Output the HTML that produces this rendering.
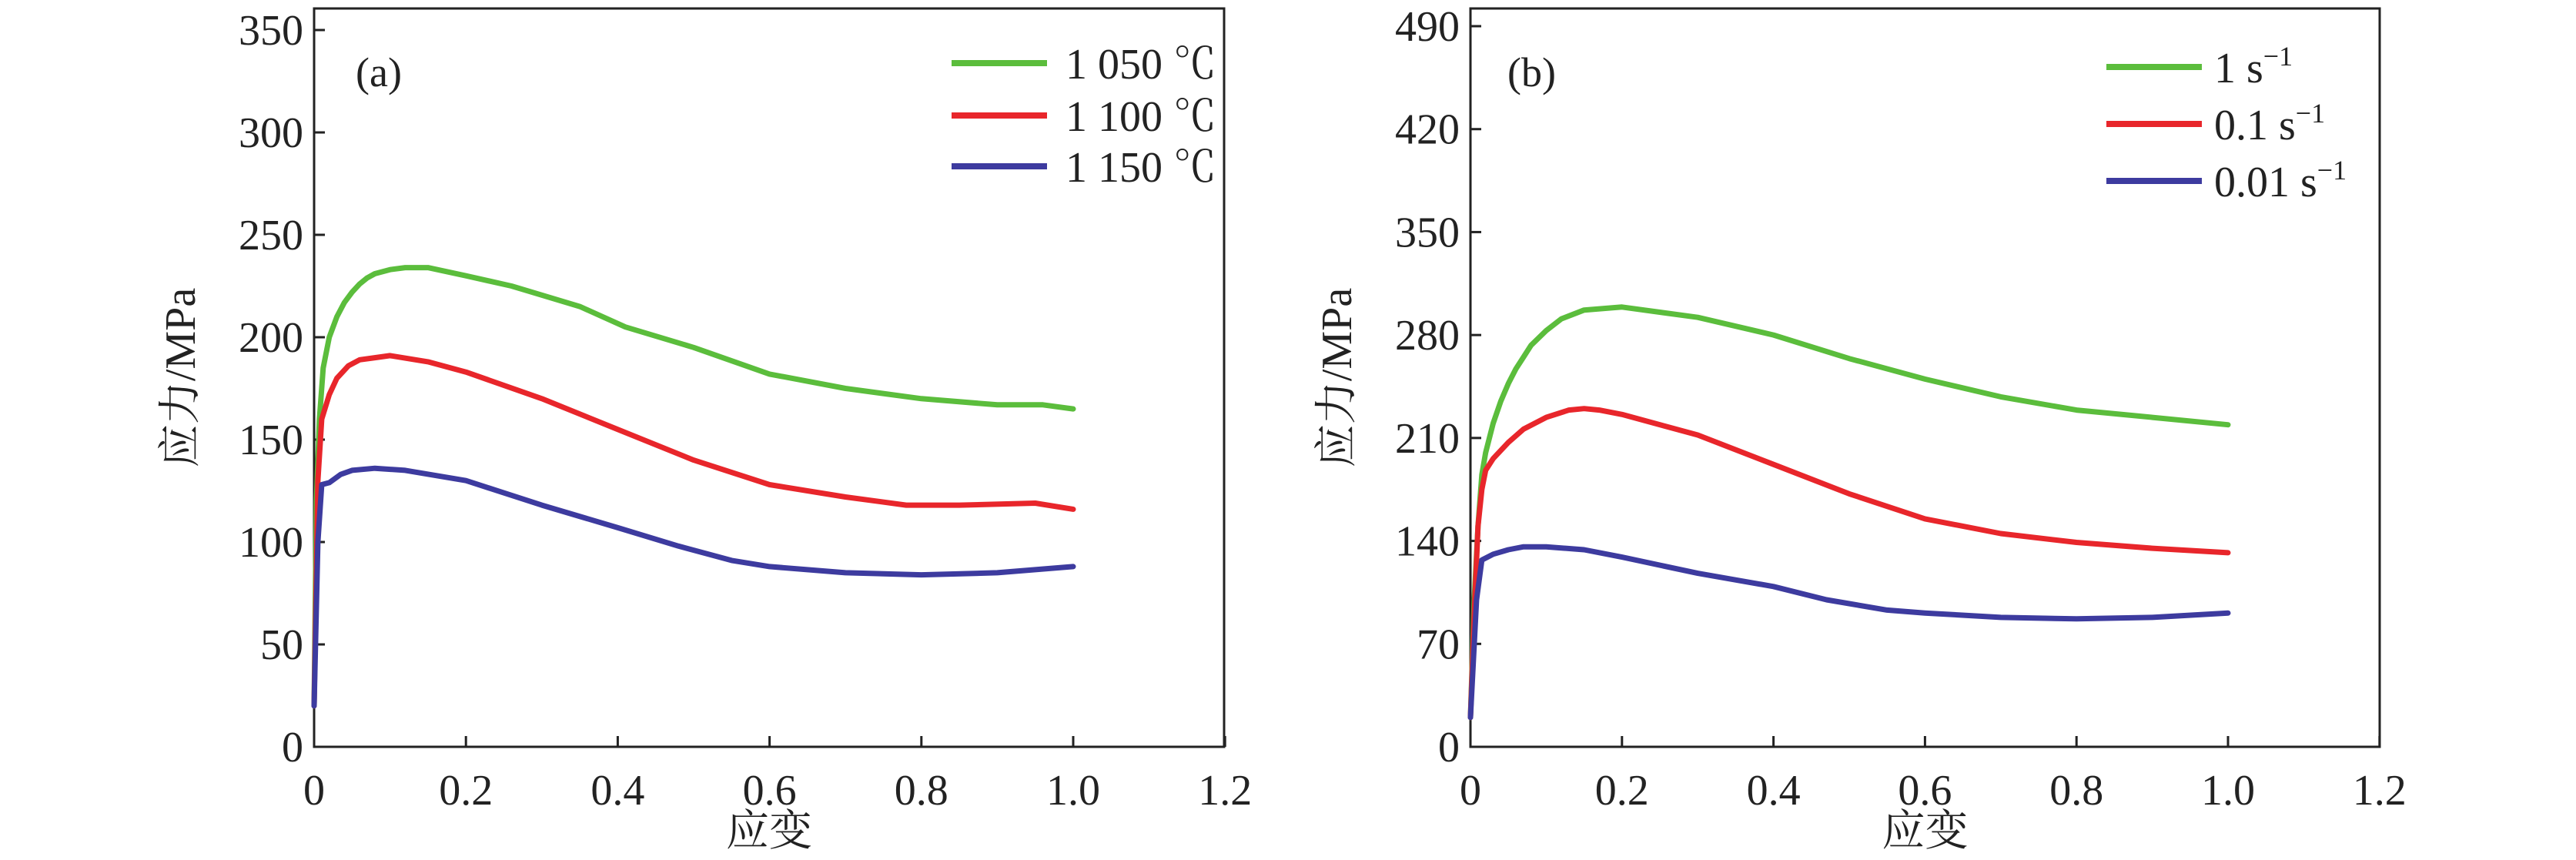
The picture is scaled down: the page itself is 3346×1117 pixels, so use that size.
<!DOCTYPE html>
<html><head><meta charset="utf-8"><style>
html,body{margin:0;padding:0;background:#fff;}
svg{display:block;}
text{font-family:"Liberation Serif","Noto Serif CJK SC",serif;fill:#222;}
</style></head><body>
<svg id="s" width="3346" height="1117" viewBox="0 0 3346 1117" xmlns="http://www.w3.org/2000/svg">
<rect width="3346" height="1117" fill="#fff"/>
<g id="g"></g>
</svg>
<script>
var g=document.getElementById('g');var h='';
function panel(L,R,T,B,x1,ymax,ystep,xp1,labels,leg,tag,tagx,lx){
  h+='<rect x="'+L+'" y="'+T+'" width="'+(R-L)+'" height="'+(B-T)+'" fill="none" stroke="#222" stroke-width="3"/>';
  var yTop=ystep.top;
  for(var v=0;v<=ymax;v+=ystep.s){var y=B-(v/ymax)*(B-yTop);
    h+='<line x1="'+L+'" x2="'+(L+14)+'" y1="'+y+'" y2="'+y+'" stroke="#222" stroke-width="3"/>';
    h+='<text x="'+(L-14)+'" y="'+(y+19)+'" font-size="56" text-anchor="end">'+v+'</text>';}
  for(var i=0;i<=6;i++){var x=L+i*0.2*xp1;
    h+='<line x1="'+x+'" x2="'+x+'" y1="'+B+'" y2="'+(B-14)+'" stroke="#222" stroke-width="3"/>';
    var t=i==0?'0':(i*0.2).toFixed(1);
    h+='<text x="'+x+'" y="'+(B+75)+'" font-size="56" text-anchor="middle">'+t+'</text>';}
  h+='<text x="'+((L+R)/2)+'" y="'+(B+128)+'" font-size="56" text-anchor="middle" font-family="Noto Serif CJK SC">应变</text>';
  h+='<text transform="translate('+(L-155)+','+((T+B)/2)+') rotate(-90)" font-size="56" text-anchor="middle">应力/MPa</text>';
  h+='<text x="'+tagx+'" y="112" font-size="54">'+tag+'</text>';
  var cols=['#5bbd3c','#e8262b','#3d3b9f'];
  leg.forEach(function(l,k){
    h+='<line x1="'+lx[0]+'" x2="'+lx[1]+'" y1="'+l.y+'" y2="'+l.y+'" stroke="'+cols[k]+'" stroke-width="8"/>';
    h+='<text x="'+lx[2]+'" y="'+(l.y+20)+'" font-size="56">'+l.t+'</text>';
  });
  labels.forEach(function(d,k){
    var p=d.map(function(q){return (L+q[0]*xp1).toFixed(1)+','+(B-(q[1]/ymax)*(B-yTop)).toFixed(1)}).join(' ');
    h+='<polyline points="'+p+'" fill="none" stroke="'+cols[k]+'" stroke-width="7" stroke-linejoin="round" stroke-linecap="round"/>';
  });
}
var A=[
[[0,20],[0.003,120],[0.007,160],[0.012,185],[0.02,200],[0.03,210],[0.04,217],[0.05,222],[0.06,226],[0.07,229],[0.08,231],[0.1,233],[0.12,234],[0.15,234],[0.2,230],[0.26,225],[0.35,215],[0.41,205],[0.5,195],[0.6,182],[0.7,175],[0.8,170],[0.9,167],[0.96,167],[1.0,165]],
[[0,20],[0.005,130],[0.01,160],[0.02,172],[0.03,180],[0.045,186],[0.06,189],[0.08,190],[0.1,191],[0.15,188],[0.2,183],[0.3,170],[0.4,155],[0.5,140],[0.6,128],[0.7,122],[0.78,118],[0.85,118],[0.95,119],[1.0,116]],
[[0,20],[0.005,100],[0.01,128],[0.02,129],[0.035,133],[0.05,135],[0.08,136],[0.12,135],[0.2,130],[0.3,118],[0.4,107],[0.48,98],[0.55,91],[0.6,88],[0.7,85],[0.8,84],[0.9,85],[1.0,88]]];
var Bd=[
[[0,20],[0.005,100],[0.01,150],[0.015,185],[0.02,200],[0.03,220],[0.04,235],[0.05,247],[0.06,257],[0.07,265],[0.08,273],[0.1,283],[0.12,291],[0.15,297],[0.2,299],[0.3,292],[0.4,280],[0.5,264],[0.6,250],[0.7,238],[0.8,229],[0.9,224],[1.0,219]],
[[0,20],[0.005,90],[0.01,150],[0.015,175],[0.02,188],[0.03,196],[0.05,207],[0.07,216],[0.1,224],[0.13,229],[0.15,230],[0.17,229],[0.2,226],[0.3,212],[0.4,192],[0.5,172],[0.6,155],[0.7,145],[0.8,139],[0.9,135],[1.0,132]],
[[0,20],[0.008,100],[0.015,127],[0.03,131],[0.05,134],[0.07,136],[0.1,136],[0.15,134],[0.2,129],[0.3,118],[0.4,109],[0.47,100],[0.55,93],[0.6,91],[0.7,88],[0.8,87],[0.9,88],[1.0,91]]];
panel(408,1590,11,970,1,350,{s:50,top:39},986,A,
 [{y:82,t:'1 050 ℃'},{y:150,t:'1 100 ℃'},{y:216,t:'1 150 ℃'}],'(a)',462,[1236,1360,1384]);
panel(1910,3091,11,970,1,490,{s:70,top:34},984,Bd,
 [{y:87,t:'1 s<tspan dy="-22" font-size="36">−1</tspan>'},{y:161,t:'0.1 s<tspan dy="-22" font-size="36">−1</tspan>'},{y:235,t:'0.01 s<tspan dy="-22" font-size="36">−1</tspan>'}],'(b)',1958,[2736,2860,2876]);
g.innerHTML=h;
</script>
</body></html>
